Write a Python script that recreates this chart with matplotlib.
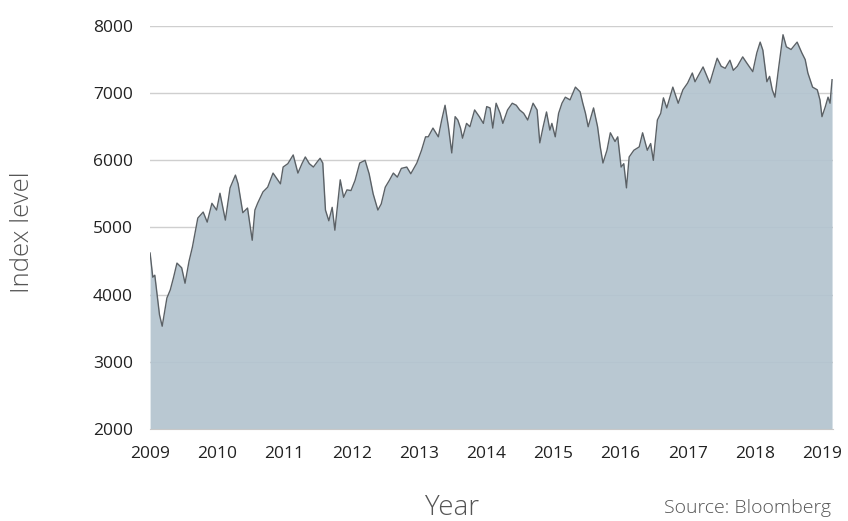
import matplotlib
matplotlib.use("Agg")
import matplotlib.pyplot as plt

# Decimal-year positions and FTSE 100 index levels
years = [
    2009.00, 2009.04, 2009.07, 2009.11, 2009.14, 2009.18, 2009.25, 2009.30, 2009.35, 2009.40,
    2009.47, 2009.52, 2009.58, 2009.63, 2009.71, 2009.79, 2009.85, 2009.92, 2009.99, 2010.04,
    2010.12, 2010.19, 2010.27, 2010.31, 2010.38, 2010.45, 2010.52, 2010.56, 2010.60, 2010.68,
    2010.75, 2010.83, 2010.90, 2010.94, 2010.98, 2011.05, 2011.13, 2011.20, 2011.26, 2011.31,
    2011.37, 2011.43, 2011.49, 2011.53, 2011.57, 2011.61, 2011.66, 2011.71, 2011.75, 2011.83,
    2011.88, 2011.93, 2011.99, 2012.05, 2012.12, 2012.20, 2012.26, 2012.32, 2012.39, 2012.44,
    2012.50, 2012.56, 2012.62, 2012.68, 2012.74, 2012.82, 2012.88, 2012.97, 2013.04, 2013.10,
    2013.14, 2013.21, 2013.29, 2013.34, 2013.39, 2013.44, 2013.49, 2013.54, 2013.58, 2013.62,
    2013.65, 2013.71, 2013.76, 2013.83, 2013.90, 2013.96, 2014.01, 2014.06, 2014.10, 2014.15,
    2014.21, 2014.25, 2014.32, 2014.39, 2014.45, 2014.50, 2014.56, 2014.62, 2014.70, 2014.76,
    2014.80, 2014.85, 2014.90, 2014.95, 2014.98, 2015.03, 2015.08, 2015.13, 2015.18, 2015.25,
    2015.33, 2015.40, 2015.44, 2015.48, 2015.52, 2015.60, 2015.66, 2015.70, 2015.74, 2015.80,
    2015.85, 2015.92, 2015.96, 2016.01, 2016.05, 2016.09, 2016.13, 2016.20, 2016.28, 2016.33,
    2016.40, 2016.45, 2016.49, 2016.55, 2016.60, 2016.64, 2016.69, 2016.74, 2016.78, 2016.86,
    2016.93, 2017.00, 2017.07, 2017.11, 2017.17, 2017.23, 2017.33, 2017.39, 2017.44, 2017.50,
    2017.56, 2017.63, 2017.68, 2017.74, 2017.82, 2017.88, 2017.97, 2018.03, 2018.08, 2018.12,
    2018.18, 2018.22, 2018.26, 2018.30, 2018.35, 2018.42, 2018.47, 2018.54, 2018.63, 2018.70,
    2018.75, 2018.79, 2018.86, 2018.93, 2018.97, 2019.00, 2019.05, 2019.09, 2019.12, 2019.15,
]
index_level = [
    4620, 4260, 4290, 3950, 3700, 3530, 3950, 4070, 4260, 4470,
    4400, 4170, 4500, 4710, 5140, 5230, 5080, 5360, 5260, 5510,
    5110, 5590, 5780, 5650, 5220, 5290, 4810, 5260, 5360, 5530,
    5600, 5810, 5710, 5650, 5900, 5950, 6080, 5810, 5950, 6050,
    5950, 5900, 5980, 6030, 5960, 5260, 5100, 5300, 4960, 5710,
    5450, 5560, 5550, 5700, 5960, 6000, 5800, 5500, 5260, 5350,
    5600, 5700, 5810, 5750, 5880, 5900, 5800, 5960, 6150, 6350,
    6350, 6480, 6350, 6600, 6820, 6500, 6110, 6650, 6600, 6480,
    6330, 6550, 6500, 6750, 6650, 6550, 6800, 6780, 6480, 6850,
    6700, 6550, 6750, 6850, 6820, 6750, 6700, 6600, 6850, 6750,
    6260, 6500, 6720, 6450, 6550, 6350, 6700, 6850, 6940, 6900,
    7090, 7020, 6850, 6700, 6500, 6780, 6500, 6200, 5960, 6150,
    6410, 6280, 6350, 5900, 5950, 5590, 6050, 6150, 6200, 6410,
    6150, 6250, 6000, 6600, 6700, 6930, 6780, 6950, 7090, 6850,
    7050, 7150, 7300, 7170, 7280, 7390, 7150, 7350, 7520, 7400,
    7370, 7490, 7340, 7400, 7540, 7450, 7320, 7600, 7760, 7640,
    7170, 7250, 7050, 6940, 7340, 7870, 7690, 7650, 7760, 7600,
    7500, 7300, 7090, 7050, 6900, 6650, 6800, 6940, 6850, 7200,
]
year_ticks = list(range(2009, 2020))
y_ticks = [2000, 3000, 4000, 5000, 6000, 7000, 8000]

fig = plt.figure(figsize=(8.48, 5.21), dpi=100)
ax = fig.add_axes([0.177, 0.1766, 0.805, 0.7735])

ax.set_xlim(2009, 2019.16)
ax.set_ylim(2000, 8000)

for yv in y_ticks[1:]:
    ax.axhline(yv, color="#cfcfcf", lw=1.0, zorder=1)

ax.fill_between(years, 2000, index_level, color="#b3c4cf", alpha=0.92, lw=0, zorder=2)
ax.plot(years, index_level, color="#5b6166", lw=1.0, zorder=3)

for s in ["top", "right", "left"]:
    ax.spines[s].set_visible(False)
ax.spines["bottom"].set_color("#c8c8c8")

ax.set_xticks(year_ticks)
ax.set_xticklabels([str(y) for y in year_ticks])
ax.set_yticks(y_ticks)
ax.set_yticklabels([str(v) for v in y_ticks])
ax.tick_params(axis="both", length=0, labelsize=12.5, colors="#222222")
ax.tick_params(axis="y", pad=12.5)
ax.tick_params(axis="x", pad=12)
for lab in ax.get_xticklabels() + ax.get_yticklabels():
    lab.set_family("Open Sans")

fig.text(0.026, 0.555, "Index level", rotation=90, ha="center", va="center",
         fontsize=18.5, color="#555555", family="Open Sans", fontweight="light")
fig.text(0.533, 0.024, "Year", ha="center", va="center",
         fontsize=20, color="#555555", family="Open Sans", fontweight="light")
fig.text(0.882, 0.024, "Source: Bloomberg", ha="center", va="center",
         fontsize=14, color="#555555", family="Open Sans", fontweight="light")

fig.savefig("out.png", dpi=100)
